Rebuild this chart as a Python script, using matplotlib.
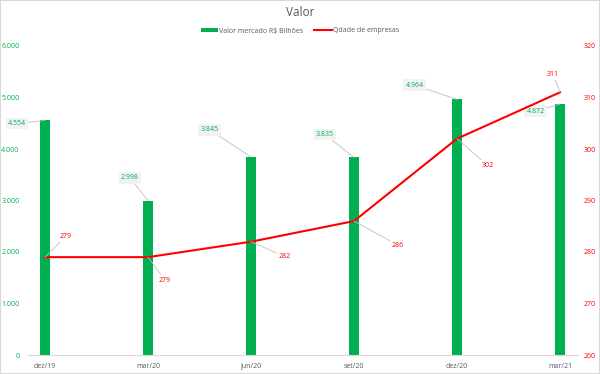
import matplotlib.pyplot as plt
from matplotlib.patches import Rectangle
from matplotlib.ticker import FuncFormatter, MultipleLocator

plt.rcParams["font.family"] = ["Open Sans", "DejaVu Sans"]

periodos = ["dez/19", "mar/20", "jun/20", "set/20", "dez/20", "mar/21"]
valor_mercado = [4554, 2998, 3845, 3835, 4964, 4872]
qtd_empresas = [279, 279, 282, 286, 302, 311]

# offsets (pixels) dos rótulos em relação ao ponto
off_barras = [(-28, -3), (-18, 23), (-41, 27), (-29, 23), (-42, 14), (-24, -7)]
off_linha = [(21, 21), (17, -23), (34, -15), (44, -24), (31, -27), (-7, 18)]

verde = "#00b050"
vermelho = "#ff0000"
cinza = "#595959"

fig = plt.figure(figsize=(6, 3.74), dpi=100)
fig.patches.append(Rectangle((0, 0), 1, 1, transform=fig.transFigure,
                             fill=False, edgecolor="#d9d9d9", lw=1.5))
ax = fig.add_axes([28 / 600, 19 / 374, 550 / 600, 309 / 374])
ax2 = ax.twinx()

x = list(range(len(periodos)))
ax.bar(x, valor_mercado, width=0.1, color=verde, label="Valor mercado R$ Bilhões", zorder=2)
ax2.plot(x, qtd_empresas, color=vermelho, lw=1.5, label="Qdade de empresas", zorder=3)

ax.set_xlim(-0.165, 5.175)
ax.set_ylim(0, 6000)
ax2.set_ylim(260, 320)
ax.yaxis.set_major_locator(MultipleLocator(1000))
ax2.yaxis.set_major_locator(MultipleLocator(10))
ax.yaxis.set_major_formatter(FuncFormatter(lambda v, p: f"{v:,.0f}".replace(",", ".")))
ax.set_xticks(x)
ax.set_xticklabels(periodos)

for a in (ax, ax2):
    for s in a.spines.values():
        s.set_visible(False)
    a.tick_params(length=0, labelsize=5)
ax.spines["bottom"].set_visible(True)
ax.spines["bottom"].set_color("#d9d9d9")
ax.tick_params(axis="y", colors=verde, pad=6)
ax.tick_params(axis="x", colors=cinza, pad=6)
ax2.tick_params(axis="y", colors=vermelho, pad=4)

caixa = dict(boxstyle="square,pad=0.35", fc="#f2f2f2", ec="none")
for xi, v, off in zip(x, valor_mercado, off_barras):
    ax.annotate(f"{v:,}".replace(",", "."), (xi, v), xytext=off, textcoords="offset pixels",
                ha="center", va="center", fontsize=5, color=verde, bbox=caixa,
                arrowprops=dict(arrowstyle="-", color="#bfbfbf", lw=0.6, shrinkA=0, shrinkB=0),
                zorder=5)
for xi, v, off in zip(x, qtd_empresas, off_linha):
    ax2.annotate(str(v), (xi, v), xytext=off, textcoords="offset pixels",
                 ha="center", va="center", fontsize=5, color=vermelho,
                 bbox=dict(boxstyle="square,pad=0.3", fc="white", ec="none"),
                 arrowprops=dict(arrowstyle="-", color="#bfbfbf", lw=0.6, shrinkA=0, shrinkB=0),
                 zorder=5)

fig.text(0.5, 1 - 13 / 374, "Valor", ha="center", va="center", fontsize=8.5, color=cinza)
h1, l1 = ax.get_legend_handles_labels()
h2, l2 = ax2.get_legend_handles_labels()
fig.legend(h1 + h2, l1 + l2, loc="center", bbox_to_anchor=(0.5, 1 - 31 / 374), ncol=2,
           frameon=False, fontsize=5, labelcolor=cinza, handlelength=2.5, handleheight=0.4,
           handletextpad=0.2, columnspacing=1.6)

fig.savefig("out.png", dpi=100)
